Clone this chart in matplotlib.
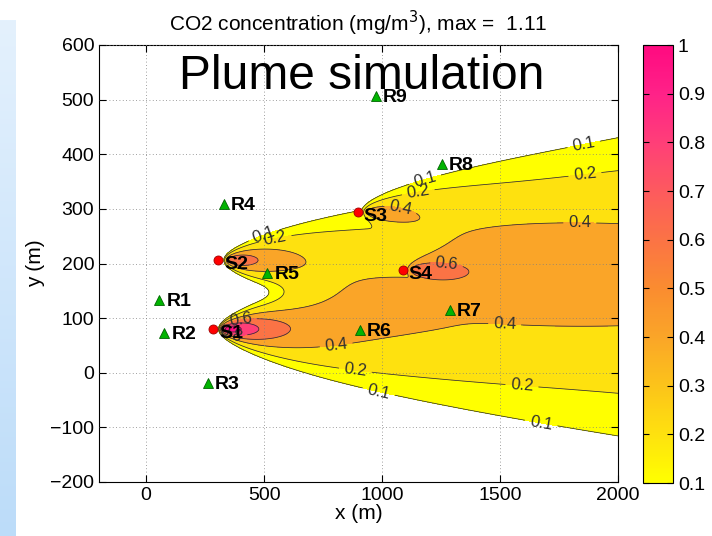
import numpy as np
import matplotlib
matplotlib.use("Agg")
import matplotlib.pyplot as plt
from matplotlib.colors import LinearSegmentedColormap, Normalize
from matplotlib.colorbar import ColorbarBase

plt.rcParams['font.family'] = ['Liberation Sans', 'DejaVu Sans']

# ---------------- data ----------------
source_names = ['S1', 'S2', 'S3', 'S4']
source_x = [285, 306, 896, 1087]
source_y = [80, 206, 294, 188]
source_q = [0.311, 0.218, 0.112, 0.10]     # relative emission strengths

receptor_names = ['R1', 'R2', 'R3', 'R4', 'R5', 'R6', 'R7', 'R8', 'R9']
receptor_x = [56, 77, 260, 328, 514, 905, 1287, 1253, 973]
receptor_y = [133, 73, -19, 309, 183, 78, 115, 382, 507]

# plume model parameters (wind along +x)
spread_a = 0.369
spread_b = 0.8
decay_p = 0.6
onset_d = 40.0

levels = [0.1, 0.2, 0.4, 0.6, 0.8, 1.0]
field_max_text = '1.11'

cb_vals = [0.1, 0.2, 0.3, 0.4, 0.5, 0.6, 0.7, 0.8, 0.9, 1.0]
cb_colors = ['#ffff00', '#fee10f', '#fcc31a', '#faa528', '#fa8c30',
             '#fb7345', '#fd5a5e', '#ff3f78', '#ff2288', '#ff0a80']

xticks = [0, 500, 1000, 1500, 2000]
yticks = [-200, -100, 0, 100, 200, 300, 400, 500, 600]
cticks = [0.1, 0.2, 0.3, 0.4, 0.5, 0.6, 0.7, 0.8, 0.9, 1.0]
cticklabels = ['0.1', '0.2', '0.3', '0.4', '0.5', '0.6', '0.7', '0.8', '0.9', '1']

label_positions = [(1851, 426), (1860, 362), (1838, 269), (1520, 93),
                   (1592, -28), (1669, -105), (884, -4), (982, -43),
                   (807, 45), (1181, 356), (1152, 334), (1075, 293),
                   (1274, 201), (544, 252), (494, 258), (360, 72), (400, 98)]

# ---------------- field ----------------
gx = np.linspace(-200, 2000, 1101)
gy = np.linspace(-200, 600, 401)
X, Y = np.meshgrid(gx, gy)
C = np.zeros_like(X)
for sx, sy, q in zip(source_x, source_y, source_q):
    dx = X - sx
    dy = Y - sy
    pos = dx > 0.5
    d = np.where(pos, dx, 1.0)
    sig = spread_a * d ** spread_b
    amp = q * (d / 1000.0) ** (-decay_p) * np.exp(-(onset_d / d) ** 2)
    C += np.where(pos, amp * np.exp(-dy ** 2 / (2 * sig ** 2)), 0.0)

# ---------------- figure ----------------
fig = plt.figure(figsize=(7.12, 5.36), dpi=100)

# slide strip on the left
strip = fig.add_axes([0, 0, 16 / 712, 516 / 536])
grad = np.linspace(0, 1, 256)[:, None]
strip_cmap = LinearSegmentedColormap.from_list('strip', ['#e4f1fd', '#bcdcf9'])
strip.imshow(grad, aspect='auto', cmap=strip_cmap)
strip.axis('off')

cmap = LinearSegmentedColormap.from_list(
    'plume', list(zip([(v - 0.1) / 0.9 for v in cb_vals], cb_colors)))
norm = Normalize(0.1, 1.0)

ax = fig.add_axes([99 / 712, 54 / 536, 519 / 712, 437 / 536])
fill_levels = levels + [max(C.max(), 1.2) + 0.1]
band_colors = [cmap(norm(l)) for l in levels]
ax.contourf(X, Y, C, levels=fill_levels, colors=band_colors)
cs = ax.contour(X, Y, C, levels=levels, colors='#303030', linewidths=0.55)
ax.clabel(cs, fmt='%g', fontsize=12, inline=True, manual=label_positions)

ax.plot(receptor_x, receptor_y, linestyle='none', marker='^', markersize=7,
        markerfacecolor='#00b400', markeredgecolor='#006400', markeredgewidth=0.6,
        zorder=5)
ax.plot(source_x, source_y, linestyle='none', marker='o', markersize=6.5,
        markerfacecolor='#ff0000', markeredgecolor='#a00000', markeredgewidth=0.6,
        zorder=5)
for n, x, y in zip(receptor_names, receptor_x, receptor_y):
    ax.annotate(n, (x, y), xytext=(5, -1), textcoords='offset points',
                ha='left', va='center', fontsize=14, fontweight='bold', zorder=6)
for n, x, y in zip(source_names, source_x, source_y):
    ax.annotate(n, (x, y), xytext=(4, -3), textcoords='offset points',
                ha='left', va='center', fontsize=14, fontweight='bold', zorder=6)

ax.text(140, 543, 'Plume simulation', fontsize=34.5, ha='left', va='center', zorder=7)

ax.set_xlim(-200, 2000)
ax.set_ylim(-200, 600)
ax.set_xticks(xticks)
ax.set_yticks(yticks)
ax.tick_params(direction='in', top=True, right=True, labelsize=14, length=5,
               width=0.8)
ax.grid(True, linestyle=(0, (1, 3)), color='#808080', linewidth=0.6)
ax.set_axisbelow(False)
for s in ax.spines.values():
    s.set_linewidth(0.8)
ax.set_xlabel('x (m)', fontsize=15, labelpad=0)
ax.set_ylabel('y (m)', fontsize=15, labelpad=4)
ax.set_title('CO2 concentration (mg/m$^3$), max =  ' + field_max_text,
             fontsize=15, pad=10)

cax = fig.add_axes([643 / 712, 53 / 536, 30 / 712, 438 / 536])
cb = ColorbarBase(cax, cmap=cmap, norm=norm, orientation='vertical')
cb.set_ticks(cticks)
cb.set_ticklabels(cticklabels)
cax.tick_params(direction='in', left=True, right=True, labelsize=14, length=4)
cb.outline.set_linewidth(0.8)

fig.savefig('out.png', dpi=100)
